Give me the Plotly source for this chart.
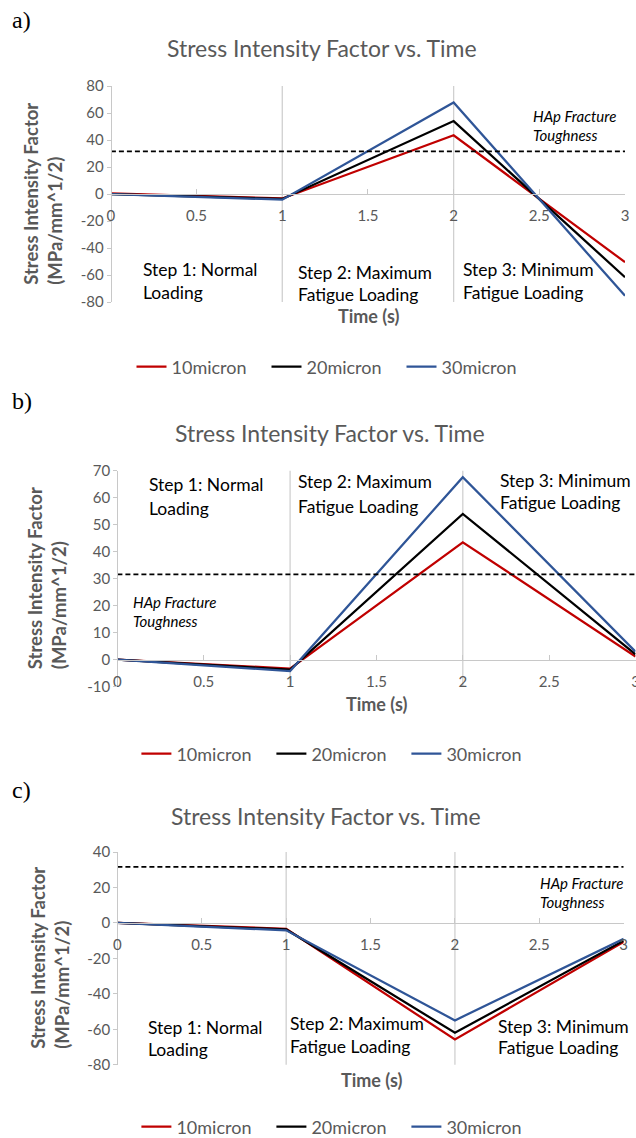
import plotly.graph_objects as go

# ---------------- data ----------------
TIME = [0, 1, 2, 3]
SERIES_NAMES = ["10micron", "20micron", "30micron"]

A_10 = [0.5, -3.3, 43.5, -50.5]
A_20 = [0.0, -3.7, 54.0, -61.6]
A_30 = [0.0, -4.2, 67.8, -75.4]

B_10 = [0.0, -3.3, 43.5, 1.2]
B_20 = [0.0, -3.7, 54.0, 2.0]
B_30 = [0.0, -4.2, 67.6, 3.0]

C_10 = [0.0, -3.3, -65.8, -10.7]
C_20 = [0.0, -3.7, -62.0, -10.0]
C_30 = [0.0, -4.2, -55.0, -9.0]

HAP_TOUGHNESS = 31.6
STEP_BOUNDARIES = [1, 2]

X_TICKS = [0, 0.5, 1, 1.5, 2, 2.5, 3]
X_TICKTEXT = ["0", "0.5", "1", "1.5", "2", "2.5", "3"]
Y_RANGES = [[-80, 80], [-10, 70], [-80, 40]]
Y_DTICKS = [20, 10, 20]

TITLE = "Stress Intensity Factor vs. Time"
Y_TITLE = "Stress Intensity Factor<br>(MPa/mm^1/2)"
X_TITLE = "Time (s)"
STEP_LABELS = [["Step 1: Normal", "Loading"],
               ["Step 2: Maximum", "Fatigue Loading"],
               ["Step 3: Minimum", "Fatigue Loading"]]
HAP_LABEL = ["HAp Fracture", "Toughness"]
PANEL_LABELS = ["a)", "b)", "c)"]

# ---------------- styles ----------------
W, H = 636, 1138
COLORS = ["#C00000", "#000000", "#2F5597"]
GRAY = "#595959"
AXIS_GRAY = "#C8C8C8"
FONT = "Lato, Carlito, sans-serif"


def px_x(p):
    return p / W


def px_y(p):
    return 1 - p / H


# layout of the three panels (pixel boxes)
PANELS = [
    dict(x0=110.9, x1=625, y0=86, y1=302, title=(322, 48), label_y=20,
         ytitle_x=42.8, xtitle=(368, 316), legend=(131.5, 367),
         steps=[(140.6, 270, 293), (295.6, 272, 294), (460.7, 270, 293)],
         hap=(531.2, 116, 135), data=[A_10, A_20, A_30]),
    dict(x0=117.4, x1=635.5, y0=470.7, y1=686.7, title=(330, 433), label_y=401,
         ytitle_x=46.5, xtitle=(376.7, 704), legend=(136.4, 754),
         steps=[(146.8, 484, 508), (296.4, 482, 506), (498.2, 480, 503)],
         hap=(131.3, 602, 621), data=[B_10, B_20, B_30]),
    dict(x0=117.4, x1=623.7, y0=852, y1=1064.7, title=(326, 816), label_y=790,
         ytitle_x=50.5, xtitle=(371, 1080), legend=(136.4, 1127),
         steps=[(146, 1027, 1049), (288.2, 1024, 1046), (496.1, 1026, 1047)],
         hap=(538.1, 883, 902), data=[C_10, C_20, C_30]),
]

fig = go.Figure()
annotations = []
shapes = []
layout_axes = {}


def text_ann(txt, x, y, size, color, xanchor="left", family=FONT, angle=0):
    return dict(text=txt, xref="paper", yref="paper", x=px_x(x), y=px_y(y),
                xanchor=xanchor, yanchor="middle", showarrow=False, align="left",
                textangle=angle, font=dict(family=family, size=size, color=color))


for i, p in enumerate(PANELS):
    n = "" if i == 0 else str(i + 1)
    xa, ya = "x" + n, "y" + n
    leg = "legend" + n
    ymin, ymax = Y_RANGES[i]
    ydom = [px_y(p["y1"]), px_y(p["y0"])]
    # x axis sits at y = 0
    xpos = ydom[0] + (0 - ymin) / (ymax - ymin) * (ydom[1] - ydom[0])
    yticks = list(range(ymin, ymax + 1, Y_DTICKS[i]))

    for s, (name, vals) in enumerate(zip(SERIES_NAMES, p["data"])):
        fig.add_trace(go.Scatter(
            x=TIME, y=vals, mode="lines", name=name,
            line=dict(color=COLORS[s], width=2.25),
            xaxis=xa, yaxis=ya, legend=leg, showlegend=True))
    # threshold
    fig.add_trace(go.Scatter(
        x=[TIME[0], TIME[-1]], y=[HAP_TOUGHNESS, HAP_TOUGHNESS], mode="lines",
        line=dict(color="black", width=1.75, dash="5px,3px"),
        xaxis=xa, yaxis=ya, showlegend=False, hoverinfo="skip"))

    layout_axes["xaxis" + n] = dict(
        domain=[px_x(p["x0"]), px_x(p["x1"])], range=[0, 3],
        anchor="free", position=xpos,
        tickvals=X_TICKS, ticktext=X_TICKTEXT,
        ticks="inside", ticklen=5, tickcolor=AXIS_GRAY,
        showline=True, linecolor=AXIS_GRAY, linewidth=1.3,
        showgrid=False, zeroline=False, ticklabelstandoff=8,
        ticklabeloverflow="allow",
        tickfont=dict(family=FONT, size=15, color=GRAY))
    layout_axes["yaxis" + n] = dict(
        domain=ydom, range=[ymin, ymax],
        tickvals=yticks, ticktext=[str(v) for v in yticks],
        anchor="free", position=px_x(p["x0"]),
        ticks="outside", ticklen=4, tickcolor=AXIS_GRAY,
        showline=True, linecolor=AXIS_GRAY, linewidth=1.3,
        showgrid=False, zeroline=False,
        tickfont=dict(family=FONT, size=15, color=GRAY))

    # step boundary lines
    for b in STEP_BOUNDARIES:
        shapes.append(dict(type="line", xref=xa, yref=ya + " domain",
                           x0=b, x1=b, y0=0, y1=1,
                           line=dict(color="#D0D0D0", width=1.3), layer="below"))

    annotations.append(text_ann(TITLE, p["title"][0], p["title"][1], 23, GRAY,
                                xanchor="center"))
    annotations.append(text_ann(PANEL_LABELS[i], 10, p["label_y"], 24, "black",
                                family="Liberation Serif, serif"))
    annotations.append(text_ann("<b>" + Y_TITLE + "</b>", p["ytitle_x"],
                                (p["y0"] + p["y1"]) / 2, 18.5, GRAY,
                                xanchor="center", angle=-90))
    annotations.append(text_ann("<b>" + X_TITLE + "</b>", p["xtitle"][0], p["xtitle"][1],
                                18, GRAY, xanchor="center"))
    for (sx, sy1, sy2), lines in zip(p["steps"], STEP_LABELS):
        annotations.append(text_ann(lines[0], sx, sy1, 17.5, "black"))
        annotations.append(text_ann(lines[1], sx, sy2, 17.5, "black"))
    hx, hy1, hy2 = p["hap"]
    annotations.append(text_ann("<i>" + HAP_LABEL[0] + "</i>", hx, hy1, 15, "black"))
    annotations.append(text_ann("<i>" + HAP_LABEL[1] + "</i>", hx, hy2, 15, "black"))

    layout_axes[leg] = dict(
        orientation="h", x=px_x(p["legend"][0]), y=px_y(p["legend"][1]),
        xanchor="left", yanchor="middle", bgcolor="rgba(0,0,0,0)",
        font=dict(family=FONT, size=18, color=GRAY),
        itemwidth=30, entrywidth=90, entrywidthmode="pixels",
        tracegroupgap=0)

fig.update_layout(
    width=W, height=H, margin=dict(l=0, r=0, t=0, b=0, autoexpand=False),
    paper_bgcolor="white", plot_bgcolor="white",
    annotations=annotations, shapes=shapes, **layout_axes)

fig.write_html("out.html")
